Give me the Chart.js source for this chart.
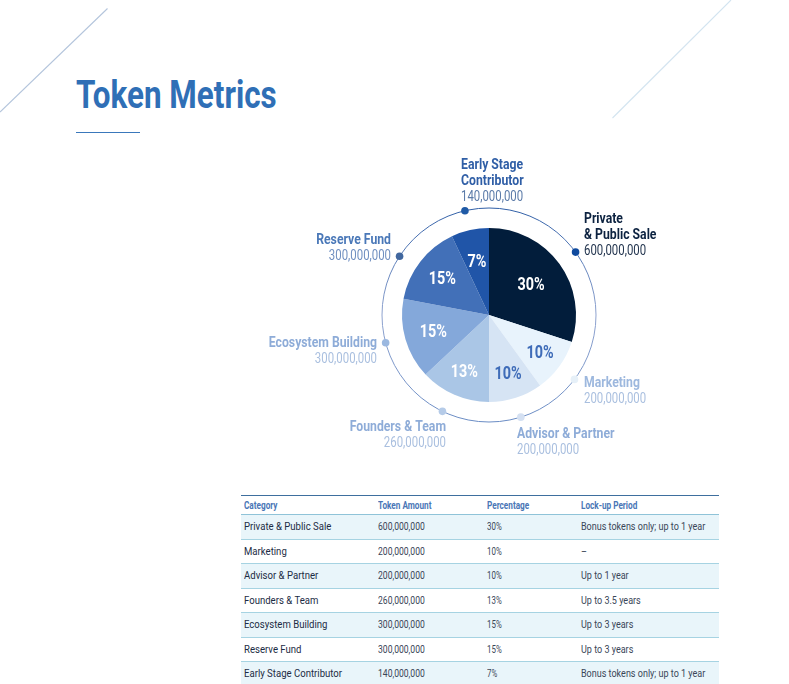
<!DOCTYPE html>
<html><head><meta charset="utf-8">
<script src="https://cdn.jsdelivr.net/npm/chart.js@4/dist/chart.umd.min.js"></script>
<style>
html,body{margin:0;padding:0;background:#fff;width:789px;height:684px;overflow:hidden;font-family:Roboto,sans-serif}
#title{position:absolute;left:76px;top:71.5px;font-size:39px;line-height:46px;font-weight:700;color:#2f6fb6;white-space:nowrap;transform:scaleX(.805);transform-origin:0 0}
#rule{position:absolute;left:76px;top:131.5px;width:64px;height:1.2px;background:#3a78bb}
#deco{position:absolute;left:0;top:0}
#wrap{position:absolute;left:239px;top:145px;width:500px;height:340px}
table{position:absolute;left:241px;top:495px;width:478px;border-collapse:collapse;table-layout:fixed;font-size:11px;color:#1c2c44}
th{height:18px;padding:0 0 0 3px;text-align:left;font-weight:700;color:#4a76b6;font-size:10px;border-top:1.3px solid #3e6f9e;border-bottom:1px solid #8fc3d8;white-space:nowrap}
td{height:23.5px;padding:0 0 0 3px;border-bottom:1px solid #a6d3e2;white-space:nowrap}
tr.s td{background:#e9f5fa}
tr:last-child td{border-bottom:none}
td:nth-child(n+2){color:#3a4658}
span{display:inline-block;transform-origin:0 50%}
</style></head><body>
<svg id="deco" width="789" height="140"><line x1="107.5" y1="8.5" x2="0" y2="112" stroke="#b4c5dc" stroke-width="1.1"/><line x1="731" y1="0" x2="612.5" y2="118" stroke="#d3e4f0" stroke-width="1.1"/></svg>
<div id="title">Token Metrics</div><div id="rule"></div>
<div id="wrap"><canvas id="c"></canvas></div>
<table id="t"><colgroup><col style="width:134px"><col style="width:109px"><col style="width:94px"><col></colgroup><thead><tr id="h"></tr></thead><tbody id="b"></tbody></table>
<script>
const categories=["Private & Public Sale","Marketing","Advisor & Partner","Founders & Team","Ecosystem Building","Reserve Fund","Early Stage Contributor"];
const tokenAmounts=[600000000,200000000,200000000,260000000,300000000,300000000,140000000];
const percentLabels=["30%","10%","10%","13%","15%","15%","7%"];
const lockups=["Bonus tokens only; up to 1 year","–","Up to 1 year","Up to 3.5 years","Up to 3 years","Up to 3 years","Bonus tokens only; up to 1 year"];
const tableHeaders=["Category","Token Amount","Percentage","Lock-up Period"];
const sliceColors=["#021d3b","#e8f3fc","#d6e4f4","#aac6e6","#84a8da","#4270b8","#2055a8"];
const pctColors=["#ffffff","#3f6cb8","#3f6cb8","#ffffff","#ffffff","#ffffff","#ffffff"];
const pctRadii=[52,63,62,62,58,59,55];
const dotColors=["#0f4a9e","#e6f0f8","#d4e0f2","#b5cbe8","#9bb8e0","#41679f","#1f5aa6"];
const dotAngles=[54,127,162.7,205.8,255,303.3,347];
const nameLines=[["Private","& Public Sale"],["Marketing"],["Advisor & Partner"],["Founders & Team"],["Ecosystem Building"],["Reserve Fund"],["Early Stage","Contributor"]];
const nameColors=["#0c2240","#9db8de","#8eacd8","#8eacd8","#8eacd8","#4a78b8","#2f5ea6"];
const amountColors=["#22344e","#a9bfdf","#a9bfdf","#a9bfdf","#a9bfdf","#6f8fc0","#5a7aa8"];
const labelAnchors=[[95,-96,"left"],[95,68,"left"],[28,119,"left"],[-43,112,"right"],[-112,28,"right"],[-98,-74.5,"right"],[-28,-150,"left"]];
const fmt=n=>n.toLocaleString("en-US");
const sp=(s,k)=>`<span style="transform:scaleX(${k})">${s.replace('&','&amp;')}</span>`;
document.getElementById("h").innerHTML=tableHeaders.map(x=>`<th>${sp(x,.82)}</th>`).join("");
document.getElementById("b").innerHTML=categories.map((c,i)=>`<tr class="${i%2==0?'s':''}"><td>${sp(c,.87)}</td><td>${sp(fmt(tokenAmounts[i]),.78)}</td><td>${sp(percentLabels[i],.72)}</td><td>${sp(lockups[i],.82)}</td></tr>`).join("");
function txt(ctx,s,x,y,k){ctx.save();ctx.translate(x,y);ctx.scale(k,1);ctx.fillText(s,0,0);ctx.restore();}
const overlay={id:"overlay",
 beforeDatasetsDraw(ch){const a=ch.getDatasetMeta(0).data[0],ctx=ch.ctx,R=a.outerRadius*107/87;
  const g=ctx.createLinearGradient(0,a.y-R,0,a.y+R);g.addColorStop(0,"#2f5ea6");g.addColorStop(.5,"#8fa3cf");g.addColorStop(1,"#6a8cc4");
  ctx.save();ctx.strokeStyle=g;ctx.lineWidth=1;ctx.beginPath();ctx.arc(a.x,a.y,R,0,7);ctx.stroke();
  dotAngles.forEach((d,i)=>{const t=(d-90)*Math.PI/180;ctx.fillStyle=dotColors[i];ctx.beginPath();ctx.arc(a.x+R*Math.cos(t),a.y+R*Math.sin(t),3.8,0,7);ctx.fill();});
  ctx.restore();},
 afterDatasetsDraw(ch){const els=ch.getDatasetMeta(0).data,ctx=ch.ctx,c=els[0];ctx.save();ctx.textBaseline="middle";
  els.forEach((e,i)=>{const m=(e.startAngle+e.endAngle)/2,r=pctRadii[i];ctx.textAlign="center";ctx.font='700 18px Roboto';ctx.fillStyle=pctColors[i];txt(ctx,percentLabels[i],e.x+r*Math.cos(m),e.y+1+r*Math.sin(m),.8);
   const [dx,dy,al]=labelAnchors[i];ctx.textAlign=al;let y=c.y+dy;
   nameLines[i].forEach(l=>{ctx.font='700 15px Roboto';ctx.fillStyle=nameColors[i];txt(ctx,l,c.x+dx,y,.815);y+=16;});
   ctx.font='400 15px Roboto';ctx.fillStyle=amountColors[i];txt(ctx,fmt(tokenAmounts[i]),c.x+dx,y,.76);});
  ctx.restore();}};
new Chart(document.getElementById("c"),{type:"pie",data:{labels:categories,datasets:[{data:tokenAmounts,backgroundColor:sliceColors,borderWidth:0}]},
 options:{responsive:true,maintainAspectRatio:false,animation:false,radius:87,plugins:{legend:{display:false},tooltip:{enabled:false}}},plugins:[overlay]});
</script></body></html>
